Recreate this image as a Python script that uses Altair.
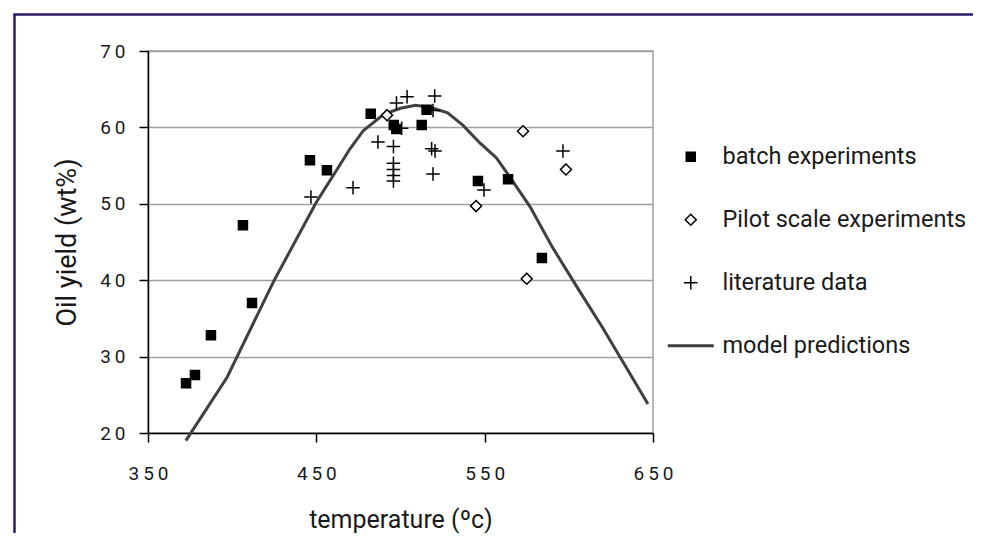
import altair as alt
import pandas as pd

# ---- data ----
batch_t = [372.6, 377.9, 387.4, 406.4, 411.8, 446.2, 456.3, 482.3, 496.0, 497.5, 512.6, 515.5, 546.0, 563.9, 584.0]
batch_y = [26.5, 27.6, 32.8, 47.2, 37.0, 55.7, 54.4, 61.8, 60.3, 59.8, 60.3, 62.3, 53.0, 53.2, 42.9]

pilot_t = [492.0, 572.8, 544.9, 598.3, 575.0]
pilot_y = [61.6, 59.5, 49.7, 54.5, 40.2]

lit_t = [446.8, 471.8, 486.6, 495.8, 495.8, 495.8, 495.8, 495.8, 497.6, 503.9, 500.7,
         518.5, 520.5, 519.3, 519.3, 520.3, 549.6, 596.5]
lit_y = [50.9, 52.1, 58.1, 57.5, 55.3, 54.5, 53.7, 53.0, 63.2, 64.0, 59.9,
         57.2, 56.9, 53.9, 62.2, 64.1, 51.8, 56.9]

model_t = [372.5, 397, 425, 450, 462, 470, 478, 490, 500, 509, 518, 528, 537, 547, 557, 565, 577, 590, 606, 620, 647]
model_y = [19.0, 27.3, 40.0, 50.2, 54.4, 57.2, 59.6, 61.7, 62.5, 62.9, 62.6, 61.9, 60.3, 58.0, 56.0, 53.5, 49.6, 44.4, 38.7, 33.8, 23.8]

series_names = ["batch experiments", "Pilot scale experiments", "literature data", "model predictions"]
x_ticks = [350, 450, 550, 650]
y_ticks = [20, 30, 40, 50, 60, 70]

points = pd.concat([
    pd.DataFrame({"temperature": batch_t, "yield": batch_y, "series": series_names[0]}),
    pd.DataFrame({"temperature": pilot_t, "yield": pilot_y, "series": series_names[1]}),
    pd.DataFrame({"temperature": lit_t, "yield": lit_y, "series": series_names[2]}),
], ignore_index=True)
model = pd.DataFrame({"temperature": model_t, "yield": model_y})

FONT = "Roboto"
TXT = "#1a1a1a"
shape_range = [
    "M-0.9,-0.9H0.9V0.9H-0.9Z",
    "M0,-1.1L1.1,0L0,1.1L-1.1,0Z",
    "M-1.35,0H1.35M0,-1.35V1.35",
    "M-4.6,0H4.6",
]
fill_range = ["#000000", "#ffffff", "transparent", "transparent"]
spaced = "join(split(datum.label, ''), '\u2009')"

x_scale = alt.Scale(domain=[350, 650], nice=False, zero=False)
y_scale = alt.Scale(domain=[20, 70], nice=False, zero=False)

x_enc = alt.X("temperature:Q", scale=x_scale, axis=alt.Axis(
    values=x_ticks, grid=False, labelExpr=spaced, labelFlush=False, labelFont=FONT,
    labelFontSize=19, labelColor=TXT, labelPadding=22, tickSize=9, tickWidth=1.5,
    tickColor="black", domainColor="black", domainWidth=1.5, title="temperature (ºc)",
    titleFont=FONT, titleFontSize=25, titleFontWeight="normal", titleColor=TXT,
    titlePadding=24))
y_enc = alt.Y("yield:Q", scale=y_scale, axis=alt.Axis(
    values=y_ticks, grid=True, gridColor="#a0a0a0", gridWidth=1.5, labelExpr=spaced,
    labelFlush=False, labelFont=FONT, labelFontSize=19, labelColor=TXT, labelPadding=14,
    tickSize=9, tickWidth=1.5, tickColor="black", domainColor="black", domainWidth=1.5,
    title="Oil yield (wt%)", titleFont=FONT, titleFontSize=27, titleFontWeight="normal",
    titleColor=TXT, titlePadding=18))

legend = alt.Legend(
    title=None, orient="none", legendX=531, legendY=94, direction="vertical",
    labelFont=FONT, labelFontSize=23.5, labelColor=TXT, labelOffset=20, rowPadding=38,
    labelLimit=400, padding=0, symbolOpacity=1, symbolSize=100,
    symbolStrokeColor={"expr": "datum.value === 'model predictions' ? '#404040' : '#000000'"},
    symbolStrokeWidth={"expr": "datum.value === 'model predictions' ? 3 : 1.5"},
    symbolFillColor={"expr": "datum.value === 'batch experiments' ? '#000000' : datum.value === 'Pilot scale experiments' ? '#ffffff' : 'transparent'"},
)

frame = alt.Chart(pd.DataFrame({"k": [0]})).mark_rect(
    fill="transparent", stroke="#2e1b6b", strokeWidth=2.5, clip=False
).encode(x=alt.value(-133.5), x2=alt.value(900), y=alt.value(-36.5), y2=alt.value(700))

line = alt.Chart(model).mark_line(color="#404040", strokeWidth=3, clip=False).encode(
    x=x_enc, y=y_enc, order="temperature:Q")

pts = alt.Chart(points).mark_point(size=100, strokeWidth=1.5, stroke="black", opacity=1).encode(
    x=x_enc, y=y_enc,
    shape=alt.Shape("series:N", scale=alt.Scale(domain=series_names, range=shape_range), legend=legend),
    fill=alt.Fill("series:N", scale=alt.Scale(domain=series_names, range=fill_range), legend=None),
)

chart = alt.layer(line, pts, frame).properties(
    width=505, height=382,
    autosize=alt.AutoSizeParams(type="none"),
    padding={"left": 140, "top": 43, "right": 320, "bottom": 100},
    background="white",
).configure_view(stroke="#a0a0a0", strokeWidth=1.5)

chart.save("out.html", embed_options={"renderer": "svg", "actions": False})
